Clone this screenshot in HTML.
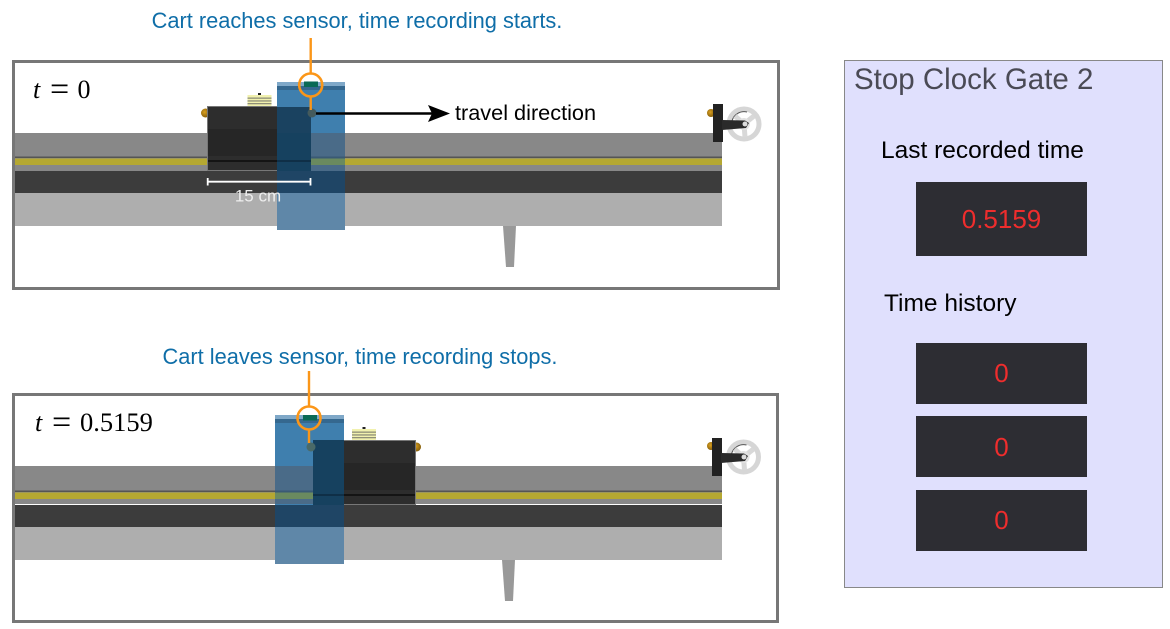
<!DOCTYPE html>
<html><head><meta charset="utf-8"><style>html,body{margin:0;padding:0;background:#fff}svg{display:block}</style></head>
<body>
<svg xmlns="http://www.w3.org/2000/svg" xmlns:xlink="http://www.w3.org/1999/xlink" width="1170" height="629" viewBox="0 0 1170 629" font-family="'Liberation Sans',sans-serif">
<defs>
<radialGradient id="gold" cx=".4" cy=".4" r=".7"><stop offset="0" stop-color="#d9a020"/><stop offset="1" stop-color="#7a5508"/></radialGradient>
<g id="wheel">
<circle cx="0" cy="0" r="15" fill="#fff" stroke="#d6d6d6" stroke-width="5"/>
<path d="M-12 -3A12.500 12.500 0 0 1 3 -12" fill="none" stroke="#555" stroke-width="1"/>
<path d="M0 0L-9 -8M0 0L10 -8M0 0L1 13" stroke="#d8d8d8" stroke-width="5"/>
<circle cx="0" cy="0" r="6" fill="#e2e2e2"/>
</g>
<g id="spring">
<rect x="0" y="1" width="24" height="11" fill="#f1f1ae"/>
<rect x="0" y="3.500" width="24" height="1.300" fill="#8f8f78"/>
<rect x="0" y="6.300" width="24" height="1.300" fill="#8f8f78"/>
<rect x="0" y="9" width="24" height="1.300" fill="#8f8f78"/>
<rect x="10.500" y="-1" width="3" height="2" fill="#222"/>
<rect x="10.500" y="12" width="3" height="1" fill="#222"/>
</g>
</defs>
<rect width="1170" height="629" fill="#fff"/>

<!-- TOP PANEL -->
<rect x="15" y="133" width="707" height="38" fill="#888"/>
<rect x="15" y="156.500" width="707" height="1.500" fill="#555"/>
<rect x="15" y="158.500" width="707" height="6.500" fill="#b5a832"/>
<rect x="15" y="171" width="707" height="22" fill="#3c3c3c"/>
<rect x="15" y="193" width="707" height="33" fill="#aeaeae"/>
<polygon points="503,226 516,226 514,267 506,267" fill="#999"/>
<rect x="13.500" y="61.500" width="765" height="227" fill="none" stroke="#777" stroke-width="3"/>
<!-- cart -->
<circle cx="205.500" cy="113" r="4.500" fill="url(#gold)"/>
<use xlink:href="#spring" href="#spring" x="247.500" y="94"/>
<rect x="207.500" y="106.500" width="103" height="64" fill="#2d2d2d" stroke="#777" stroke-width="1"/>
<rect x="208" y="129" width="102" height="27" fill="#262626"/>
<rect x="208" y="160" width="102" height="2" fill="#141414"/>
<!-- pulley -->
<circle cx="711" cy="113" r="4" fill="url(#gold)"/>
<use xlink:href="#wheel" href="#wheel" x="744" y="124"/>
<rect x="713" y="104" width="10" height="38" fill="#222"/>
<polygon points="722,120 745,120.500 749,123 746,128 722,130" fill="#2a2a2a"/>
<circle cx="745" cy="124" r="2.500" fill="#ddd"/>
<!-- blue gate -->
<rect x="277" y="82" width="68" height="148" fill="#3f7fae"/>
<rect x="277" y="82" width="68" height="4" fill="#7fa8c8"/>
<rect x="277" y="86" width="68" height="4" fill="#35688f"/>
<rect x="277" y="193" width="68" height="37" fill="#5f87a8"/>
<rect x="277" y="133" width="34" height="38" fill="#16415f"/>
<rect x="277" y="107" width="34" height="26" fill="#1a4260"/>
<rect x="277" y="160" width="34" height="2" fill="#0f2f47"/>
<rect x="311" y="133" width="34" height="38" fill="#4a6b88"/>
<rect x="311" y="156.500" width="34" height="2" fill="#3a5a74"/>
<rect x="311" y="158.500" width="34" height="6.500" fill="#6a8a5f"/>
<rect x="277" y="171" width="68" height="22" fill="#1f4565"/>
<rect x="304" y="81.500" width="14" height="5.500" fill="#0a6a55"/>
<circle cx="312" cy="113" r="4.500" fill="#445a5c"/>
<!-- orange -->
<line x1="310.700" y1="38" x2="310.700" y2="74" stroke="#fb9618" stroke-width="2.400"/>
<line x1="310.700" y1="97" x2="310.700" y2="110" stroke="#fb9618" stroke-width="2.400"/>
<circle cx="310.700" cy="85" r="11.500" fill="none" stroke="#fb9618" stroke-width="2.600"/>
<!-- arrow -->
<line x1="316" y1="113.500" x2="432" y2="113.500" stroke="#000" stroke-width="2.500"/>
<polygon points="428,105 450,113.500 428,122 432,113.500" fill="#000"/>
<text x="455" y="120" font-size="21.700" fill="#000">travel direction</text>
<!-- dimension -->
<path d="M207.700 178V185.500M207.700 181.700H310.500M310.500 178V185.500" stroke="#fff" stroke-width="1.800" fill="none"/>
<text x="258" y="201.500" font-size="17" fill="#eee" text-anchor="middle">15 cm</text>
<text x="357" y="28" font-size="21.800" fill="#0f6ea8" text-anchor="middle">Cart reaches sensor, time recording starts.</text>
<g font-family="'Liberation Serif',serif" fill="#000">
<text x="33" y="98" font-size="26" font-style="italic">t</text>
<text x="50" y="100" font-size="34">=</text>
<text x="77.500" y="98" font-size="26">0</text>
<text x="35" y="431" font-size="26" font-style="italic">t</text>
<text x="52" y="433" font-size="34">=</text>
<text x="80" y="431" font-size="26.500">0.5159</text>
</g>

<!-- BOTTOM PANEL -->
<rect x="15" y="466" width="707" height="38" fill="#888"/>
<rect x="15" y="490.500" width="707" height="1.500" fill="#555"/>
<rect x="15" y="492.500" width="707" height="6.500" fill="#b5a832"/>
<rect x="15" y="505" width="707" height="22" fill="#3c3c3c"/>
<rect x="15" y="527" width="707" height="33" fill="#aeaeae"/>
<polygon points="502,560 515,560 513,601 505,601" fill="#999"/>
<rect x="13.500" y="394.500" width="764" height="227" fill="none" stroke="#777" stroke-width="3"/>
<!-- cart -->
<circle cx="416.500" cy="447" r="4.500" fill="url(#gold)"/>
<use xlink:href="#spring" href="#spring" x="352" y="428"/>
<rect x="312.500" y="440.500" width="103" height="64" fill="#2d2d2d" stroke="#777" stroke-width="1"/>
<rect x="313" y="463" width="102" height="27" fill="#262626"/>
<rect x="313" y="494" width="102" height="2" fill="#141414"/>
<!-- pulley -->
<circle cx="711" cy="446" r="4" fill="url(#gold)"/>
<use xlink:href="#wheel" href="#wheel" x="743.500" y="457"/>
<rect x="712" y="438" width="10" height="38" fill="#222"/>
<polygon points="721,453 744,453.500 748,456 745,461 721,463" fill="#2a2a2a"/>
<circle cx="744" cy="457" r="2.500" fill="#ddd"/>
<!-- blue gate -->
<rect x="275" y="415" width="69" height="149" fill="#3f7fae"/>
<rect x="275" y="415" width="69" height="4" fill="#7fa8c8"/>
<rect x="275" y="419" width="69" height="4" fill="#35688f"/>
<rect x="275" y="527" width="69" height="37" fill="#5f87a8"/>
<rect x="275" y="466" width="38" height="38" fill="#4a6b88"/>
<rect x="275" y="490.500" width="38" height="2" fill="#3a5a74"/>
<rect x="275" y="492.500" width="38" height="6.500" fill="#6a8a5f"/>
<rect x="313" y="440" width="31" height="65" fill="#16415f"/>
<rect x="313" y="494" width="31" height="2" fill="#0f2f47"/>
<rect x="275" y="505" width="69" height="22" fill="#1f4565"/>
<circle cx="311" cy="447" r="4.500" fill="#4a6a68"/>
<rect x="303" y="415" width="14" height="5.500" fill="#0a6a55"/>
<!-- orange -->
<line x1="309" y1="371" x2="309" y2="407" stroke="#fb9618" stroke-width="2.400"/>
<line x1="309" y1="430" x2="309" y2="443" stroke="#fb9618" stroke-width="2.400"/>
<circle cx="309" cy="418" r="11.500" fill="none" stroke="#fb9618" stroke-width="2.600"/>
<text x="360" y="364" font-size="21.800" fill="#0f6ea8" text-anchor="middle">Cart leaves sensor, time recording stops.</text>

<!-- RIGHT PANEL -->
<rect x="844.500" y="60.500" width="318" height="527" fill="#e0e0fd" stroke="#888" stroke-width="1"/>
<text x="854" y="89" font-size="29.500" fill="#4a4a55">Stop Clock Gate 2</text>
<text x="881" y="158" font-size="24.500" fill="#000">Last recorded time</text>
<rect x="916" y="182" width="171" height="74" fill="#2d2d33"/>
<text x="1001.500" y="228" font-size="26" fill="#ee2d2d" text-anchor="middle">0.5159</text>
<text x="884" y="311" font-size="24.500" fill="#000">Time history</text>
<rect x="916" y="343" width="171" height="61" fill="#2d2d33"/>
<text x="1001.500" y="382" font-size="26" fill="#ee2d2d" text-anchor="middle">0</text>
<rect x="916" y="416" width="171" height="61" fill="#2d2d33"/>
<text x="1001.500" y="456" font-size="26" fill="#ee2d2d" text-anchor="middle">0</text>
<rect x="916" y="490" width="171" height="61" fill="#2d2d33"/>
<text x="1001.500" y="529" font-size="26" fill="#ee2d2d" text-anchor="middle">0</text>
</svg>
</body></html>
